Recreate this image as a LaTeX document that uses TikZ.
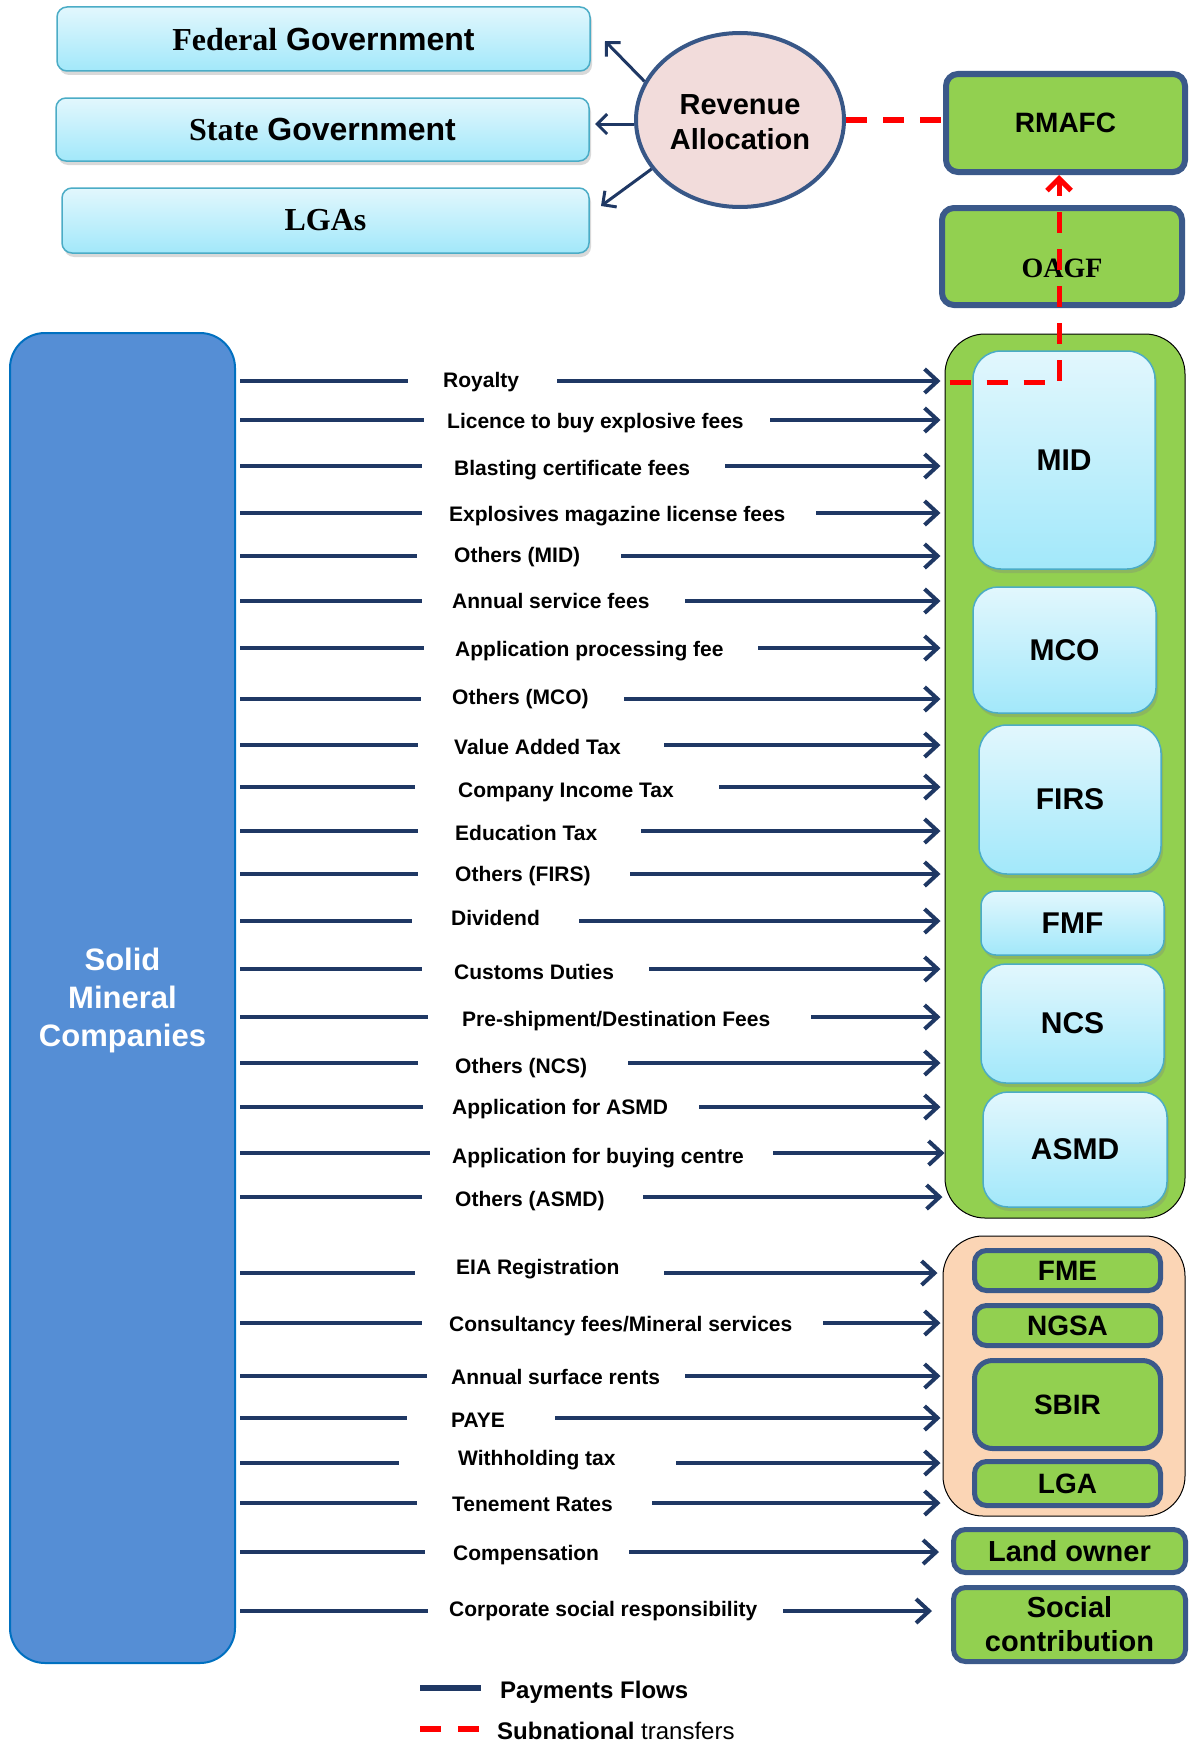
\documentclass[tikz,border=0pt]{standalone}
\usepackage{fontspec}
\setmainfont{Liberation Sans}
\newfontfamily\seriffont{Liberation Serif}
\usetikzlibrary{arrows.meta,shadows,shapes.geometric}

\definecolor{navy}{RGB}{31,56,100}
\definecolor{lbtop}{RGB}{226,247,253}
\definecolor{lbbot}{RGB}{162,232,250}
\definecolor{lbborder}{RGB}{75,172,198}
\definecolor{grn}{RGB}{146,208,80}
\definecolor{gborder}{RGB}{59,89,138}
\definecolor{peach}{RGB}{251,213,181}
\definecolor{smcblue}{RGB}{85,142,213}
\definecolor{smcborder}{RGB}{0,112,192}
\definecolor{pinkfill}{RGB}{242,220,219}
\definecolor{ellborder}{RGB}{56,87,135}

\tikzset{
  gov/.style={draw=lbborder, line width=1.5pt, rounded corners=10pt, top color=lbtop, bottom color=lbbot,
    inner sep=0pt, drop shadow={opacity=0.3,shadow xshift=2pt,shadow yshift=-4pt},
    font=\fontsize{32}{36}\selectfont\bfseries},
  agency/.style={draw=lbborder, line width=1.5pt, top color=lbtop, bottom color=lbbot,
    inner sep=0pt, drop shadow={opacity=0.3,shadow xshift=2pt,shadow yshift=-4pt},
    font=\fontsize{30}{34}\selectfont\bfseries},
  gbox/.style={draw=gborder, line width=5pt, fill=grn, rounded corners=12pt, inner sep=0pt,
    font=\fontsize{28}{32}\selectfont\bfseries},
  lbl/.style={font=\fontsize{21}{25}\selectfont\bfseries, inner sep=0pt, anchor=mid west, yshift=-5.5pt},
  pay/.style={draw=navy, line width=4pt},
  payarrow/.style={pay, -{Straight Barb[length=13pt,width=24pt]}},
  govarrow/.style={draw=navy, line width=3pt, -{Straight Barb[length=10pt,width=20pt]}},
  subline/.style={draw=red, line width=5pt, dash pattern=on 21pt off 16pt},
}

\newcommand\flowrow[9]{%
  \coordinate (#1a) at (#3,#2);
  \coordinate (#1b) at (#6,#2);
  \node[lbl] (#1) at (#4,#5) {#7};
  \draw[pay, shorten <=4pt] (smc.east |- #1a) -- (#1a);
  \draw[payarrow, shorten >=#9pt] (#1b) -- (#8.west |- #1b);
}

\begin{document}
\begin{tikzpicture}[x=1pt,y=-1pt]
\useasboundingbox (0,0) rectangle (1192,1745);

% government boxes
\node[gov, minimum width=533, minimum height=64] (fed) at (323.5,39) {{\seriffont Federal} Government};
\node[gov, minimum width=533, minimum height=63] (state) at (322.5,129.5) {{\seriffont State} Government};
\node[gov, minimum width=527, minimum height=65] (lgas) at (325.5,220.5) {\seriffont LGAs};

% revenue allocation
\node[ellipse, draw=ellborder, line width=4pt, fill=pinkfill, minimum width=208, minimum height=174,
  inner sep=0pt, align=center, font=\fontsize{29}{35}\selectfont\bfseries] (rev) at (740,120) {};
\node[align=center, inner sep=0pt, font=\fontsize{29}{35}\selectfont\bfseries] (revtext) at (740,122.5) {Revenue\\Allocation};

\coordinate (tfed) at (605,41);
\coordinate (tstate) at (595,124);
\coordinate (tlga) at (601,206);
\draw[govarrow] (rev.158) -- (tfed);
\draw[govarrow] (rev.west |- tstate) -- (tstate);
\draw[govarrow] (rev.209) -- (tlga);

% RMAFC / OAGF
\node[gbox, line width=6pt, minimum width=239, minimum height=98] (rmafc) at (1065.5,123) {RMAFC};
\node[gbox, line width=6pt, minimum width=240, minimum height=97] (oagf) at (1062,256.5) {};
\node[inner sep=0pt, font=\fontsize{28}{32}\selectfont\bfseries\seriffont] (oagftext) at (1062,268) {OAGF};

% solid mineral companies
\node[draw=smcborder, line width=2pt, fill=smcblue, rounded corners=35pt, minimum width=225, minimum height=1330,
  inner sep=0pt] (smc) at (122.5,998) {};
\node[text=white, align=center, inner sep=0pt, font=\fontsize{31}{38}\selectfont\bfseries] (smctext) at (122.5,1000)
  {Solid\\Mineral\\Companies};

% group 1 container
\node[draw=black, line width=1pt, fill=grn, rounded corners=40pt, minimum width=240, minimum height=884, inner sep=0pt] (grp1) at (1065,776) {};
\node[agency, rounded corners=28pt, minimum width=182, minimum height=218] (mid) at (1064,460) {MID};
\node[agency, rounded corners=25pt, minimum width=183, minimum height=126] (mco) at (1064.5,650) {MCO};
\node[agency, rounded corners=28pt, minimum width=182, minimum height=149] (firs) at (1070,799.5) {FIRS};
\node[agency, rounded corners=15pt, minimum width=183, minimum height=64] (fmf) at (1072.5,923) {FMF};
\node[agency, rounded corners=25pt, minimum width=183, minimum height=119] (ncs) at (1072.5,1023.5) {NCS};
\node[agency, rounded corners=25pt, minimum width=184, minimum height=115] (asmd) at (1075,1149.5) {ASMD};

% group 2 container
\node[draw=black, line width=1pt, fill=peach, rounded corners=40pt, minimum width=242, minimum height=280, inner sep=0pt] (grp2) at (1064,1376) {};
\node[gbox, minimum width=186, minimum height=40] (fme) at (1067.5,1270.5) {FME};
\node[gbox, minimum width=186, minimum height=40] (ngsa) at (1067.5,1325.5) {NGSA};
\node[gbox, rounded corners=18pt, minimum width=186, minimum height=88] (sbir) at (1067.5,1404.5) {SBIR};
\node[gbox, minimum width=186, minimum height=44] (lga) at (1067.5,1483.5) {LGA};
\node[gbox, font=\fontsize{29}{34}\selectfont\bfseries, minimum width=232, minimum height=43] (land) at (1069.5,1551) {Land owner};
\node[gbox, font=\fontsize{29}{34}\selectfont\bfseries, align=center, minimum width=232, minimum height=74] (social) at (1069.5,1624.5) {Social\\contribution};

% payment flows
\flowrow{r1}{381}{408}{443}{379}{557}{Royalty}{grp1}{4}
\flowrow{r2}{420}{424}{447}{420}{770}{Licence to buy explosive fees}{grp1}{4}
\flowrow{r3}{466}{422}{454}{467}{725}{Blasting certificate fees}{grp1}{4}
\flowrow{r4}{513}{422}{449}{513}{816}{Explosives magazine license fees}{grp1}{4}
\flowrow{r5}{556}{417}{454}{554}{621}{Others (MID)}{grp1}{4}
\flowrow{r6}{601}{422}{452}{600}{685}{Annual service fees}{grp1}{4}
\flowrow{r7}{648}{424}{455}{648}{758}{Application processing fee}{grp1}{4}
\flowrow{r8}{699}{421}{452}{696}{624}{Others (MCO)}{grp1}{4}
\flowrow{r9}{745}{418}{454}{746}{664}{Value Added Tax}{grp1}{4}
\flowrow{r10}{787}{415}{458}{789}{719}{Company Income Tax}{grp1}{4}
\flowrow{r11}{831}{418}{455}{832}{641}{Education Tax}{grp1}{4}
\flowrow{r12}{874}{418}{455}{873}{630}{Others (FIRS)}{grp1}{4}
\flowrow{r13}{921}{412}{451}{917}{579}{Dividend}{grp1}{4}
\flowrow{r14}{969}{422}{454}{971}{649}{Customs Duties}{grp1}{4}
\flowrow{r15}{1017}{428}{462}{1018}{811}{Pre-shipment/Destination Fees}{grp1}{4}
\flowrow{r16}{1063}{418}{455}{1065}{628}{Others (NCS)}{grp1}{4}
\flowrow{r17}{1107}{423}{452}{1106}{699}{Application for ASMD}{grp1}{4}
\flowrow{r18}{1153}{430}{452}{1155}{773}{Application for buying centre}{grp1}{0}
\flowrow{r19}{1197}{422}{455}{1198}{643}{Others (ASMD)}{grp1}{2}
\flowrow{r20}{1273}{415}{456}{1266}{664}{EIA Registration}{grp2}{5}
\flowrow{r21}{1323}{422}{449}{1323}{823}{Consultancy fees/Mineral services}{grp2}{2}
\flowrow{r22}{1376}{427}{451}{1376}{685}{Annual surface rents}{grp2}{2}
\flowrow{r23}{1418}{407}{451}{1419}{555}{PAYE}{grp2}{2}
\flowrow{r24}{1463}{399}{458}{1457}{676}{Withholding tax}{grp2}{2}
\flowrow{r25}{1503}{417}{452}{1503}{652}{Tenement Rates}{grp2}{2}
\flowrow{r26}{1552}{425}{453}{1552}{629}{Compensation}{land}{12}
\flowrow{r27}{1611}{428}{449}{1608}{783}{Corporate social responsibility}{social}{19}

% subnational transfers (red dashed)
\draw[subline, line width=6pt] (rev.east) -- (rmafc.west |- rev.east);
\coordinate (rc) at (1059,382);
\draw[subline, -{Straight Barb[length=12pt,width=24pt]}] ([xshift=5pt]grp1.west |- rc) -- (rc) -- (rc |- rmafc.south);

% legend
\coordinate (lpa) at (420,1688);
\coordinate (lpb) at (481,1688);
\draw[draw=navy, line width=6pt] (lpa) -- (lpb);
\node[lbl, font=\fontsize{24}{28}\selectfont\bfseries, yshift=-2.5pt] (legpay) at (500,1688) {Payments Flows};
\coordinate (lsa) at (420,1729);
\coordinate (lsb) at (481,1729);
\draw[draw=red, line width=6pt, dash pattern=on 21pt off 17pt] (lsa) -- (lsb);
\node[lbl, font=\fontsize{24}{28}\selectfont, yshift=-2.5pt] (legsub) at (497,1729) {\textbf{Subnational} transfers};
\end{tikzpicture}
\end{document}
